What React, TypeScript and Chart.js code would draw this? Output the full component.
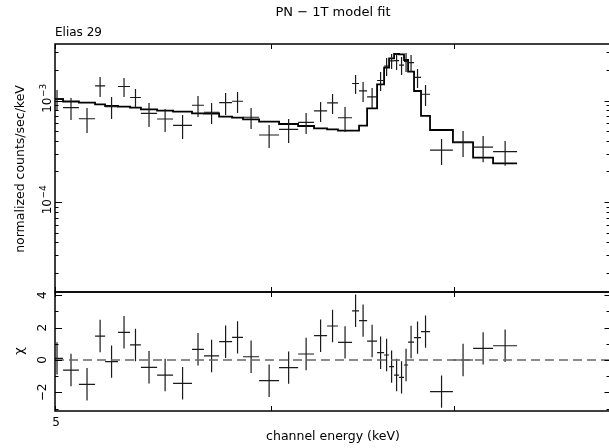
import { useEffect, useRef } from 'react';
import { Chart, registerables } from 'chart.js';

Chart.register(...registerables);

// Channel bin edges (keV)
const binEdges = [
  4.983, 5.034, 5.102, 5.172, 5.216, 5.273, 5.327, 5.376, 5.45, 5.524, 5.613,
  5.67, 5.743, 5.806, 5.86, 5.94, 6.041, 6.139, 6.222, 6.291, 6.349, 6.425,
  6.463, 6.507, 6.562, 6.601, 6.629, 6.657, 6.685, 6.713, 6.736, 6.77, 6.81,
  6.862, 6.996, 7.116, 7.237, 7.385,
];
// normalized counts/sec/keV (x 1e-3)
const rate = [
  1.037, 0.85, 0.661, 1.393, 0.87, 1.374, 1.071, 0.747, 0.657, 0.569, 0.898,
  0.766, 0.953, 0.983, 0.684, 0.457, 0.519, 0.61, 0.79, 0.948, 0.676, 1.471,
  1.244, 1.086, 1.575, 2.183, 2.458, 2.468, 2.233, 2.423, 2.358, 1.686, 1.152,
  0.325, 0.389, 0.347, 0.313,
];
const rateErr = [
  0.231, 0.208, 0.183, 0.311, 0.213, 0.292, 0.227, 0.198, 0.168, 0.151, 0.21,
  0.179, 0.233, 0.23, 0.16, 0.117, 0.138, 0.143, 0.176, 0.211, 0.187, 0.312,
  0.277, 0.242, 0.334, 0.44, 0.414, 0.47, 0.45, 0.514, 0.449, 0.358, 0.269,
  0.093, 0.112, 0.1, 0.086,
];
const model = [
  1.035, 0.978, 0.951, 0.917, 0.883, 0.869, 0.849, 0.819, 0.793, 0.776, 0.748,
  0.745, 0.693, 0.677, 0.653, 0.618, 0.587, 0.561, 0.532, 0.52, 0.504, 0.506,
  0.565, 0.838, 1.444, 2.105, 2.605, 2.872, 2.852, 2.506, 1.922, 1.241, 0.704,
  0.512, 0.386, 0.274, 0.24,
];
// residuals (chi)
const chi = [
  0.1, -0.62, -1.5, 1.48, -0.1, 1.71, 0.93, -0.45, -0.93, -1.44, 0.66, 0.25,
  1.13, 1.4, 0.2, -1.28, -0.47, 0.37, 1.5, 2.1, 1.09, 3.04, 2.43, 1.17, 0.45,
  0.31, -0.41, -0.93, -1.07, -0.31, 1.11, 1.38, 1.75, -1.95, 0.0, 0.72, 0.88,
];
const RATE_UNIT = 1e-3;

const xMin = 5;
const xMax = 7.981;
const topMin = 1.298e-5;
const topMax = 3.603e-3;
const chiMin = -3.15;
const chiMax = 4.2;

const xTicks = [5, 6, 7];
const xTickLabels = ['5', '', ''];
const topMajorTicks = [1e-4, 1e-3];
const topMajorExp = ['−4', '−3'];
const chiMajorTicks = [-2, 0, 2, 4];
const chiMajorLabels = ['−2', '0', '2', '4'];
const chiMinorTicks = [-3, -1, 1, 3];

const titleText = 'PN − 1T model fit';
const sourceText = 'Elias 29';
const yTitleTop = 'normalized counts/sec/keV';
const yTitleBottom = 'χ';
const xTitle = 'channel energy (keV)';

const FONT = '"DejaVu Sans", sans-serif';

function crosses(vals: number[], errs: number[], unit: number) {
  const pts: { x: number; y: number | null }[] = [];
  for (let i = 0; i < vals.length; i++) {
    const lo = binEdges[i];
    const hi = binEdges[i + 1];
    const c = (lo + hi) / 2;
    const v = vals[i] * unit;
    const e = errs[i] * unit;
    pts.push({ x: lo, y: v }, { x: hi, y: v }, { x: c, y: null });
    pts.push({ x: c, y: v - e }, { x: c, y: v + e }, { x: c, y: null });
  }
  return pts;
}

function seg(ctx: CanvasRenderingContext2D, x1: number, y1: number, x2: number, y2: number) {
  ctx.beginPath();
  ctx.moveTo(x1, y1);
  ctx.lineTo(x2, y2);
  ctx.stroke();
}

function rotText(ctx: CanvasRenderingContext2D, text: string, x: number, y: number, font: string) {
  ctx.save();
  ctx.translate(x, y);
  ctx.rotate(-Math.PI / 2);
  ctx.font = font;
  ctx.textAlign = 'center';
  ctx.textBaseline = 'middle';
  ctx.fillText(text, 0, 0);
  ctx.restore();
}

function drawFrame(chart: any) {
  const { ctx, chartArea: a } = chart;
  ctx.strokeStyle = '#000';
  ctx.lineWidth = 1.5;
  // frame: right side lies on the canvas edge
  ctx.strokeRect(a.left, a.top, a.right + 2 - a.left, a.bottom - a.top);
  ctx.lineWidth = 1;
  const xs = chart.scales.x;
  for (const v of xTicks) {
    const px = Math.round(xs.getPixelForValue(v)) + 0.5;
    seg(ctx, px, a.top, px, a.top + 5);
    seg(ctx, px, a.bottom, px, a.bottom - 5);
  }
}

const topDecor = {
  id: 'topDecor',
  afterDraw(chart: any) {
    const { ctx, chartArea: a } = chart;
    const ys = chart.scales.y;
    ctx.save();
    drawFrame(chart);
    ctx.lineWidth = 1;
    for (let d = -5; d <= -2; d++) {
      for (let m = 1; m <= 9; m++) {
        const v = m * Math.pow(10, d);
        if (v < topMin || v > topMax) continue;
        const py = Math.round(ys.getPixelForValue(v)) + 0.5;
        seg(ctx, a.left, py, a.left + (m === 1 ? 7 : 3.5), py);
        seg(ctx, a.right, py, a.right - (m === 1 ? 4.5 : 2.5), py);
      }
    }
    ctx.fillStyle = '#000';
    topMajorTicks.forEach((v, i) => {
      const py = ys.getPixelForValue(v);
      ctx.save();
      ctx.translate(51, py - 2);
      ctx.rotate(-Math.PI / 2);
      ctx.textBaseline = 'alphabetic';
      ctx.textAlign = 'left';
      ctx.font = `12px ${FONT}`;
      const w10 = ctx.measureText('10').width;
      ctx.font = `9px ${FONT}`;
      const we = ctx.measureText(topMajorExp[i]).width;
      const start = -(w10 + we) / 2;
      ctx.font = `12px ${FONT}`;
      ctx.fillText('10', start, 0);
      ctx.font = `9px ${FONT}`;
      ctx.fillText(topMajorExp[i], start + w10 + 0.5, -5.5);
      ctx.restore();
    });
    rotText(ctx, yTitleTop, 20.5, 169, `12.5px ${FONT}`);
    ctx.textBaseline = 'middle';
    ctx.textAlign = 'center';
    ctx.font = `13px ${FONT}`;
    ctx.fillText(titleText, 333, 12.5);
    ctx.font = `12px ${FONT}`;
    ctx.textAlign = 'left';
    ctx.fillText(sourceText, 55, 33);
    ctx.restore();
  },
};

const bottomDecor = {
  id: 'bottomDecor',
  afterDraw(chart: any) {
    const { ctx, chartArea: a } = chart;
    const ys = chart.scales.y;
    const xs = chart.scales.x;
    ctx.save();
    drawFrame(chart);
    ctx.lineWidth = 1;
    for (const v of chiMajorTicks) {
      const py = Math.round(ys.getPixelForValue(v)) + 0.5;
      seg(ctx, a.left, py, a.left + 7, py);
      seg(ctx, a.right, py, a.right - 4.5, py);
    }
    for (const v of chiMinorTicks) {
      const py = Math.round(ys.getPixelForValue(v)) + 0.5;
      seg(ctx, a.left, py, a.left + 3.5, py);
      seg(ctx, a.right, py, a.right - 2.5, py);
    }
    ctx.fillStyle = '#000';
    chiMajorTicks.forEach((v, i) => {
      rotText(ctx, chiMajorLabels[i], 42.5, ys.getPixelForValue(v), `12px ${FONT}`);
    });
    rotText(ctx, yTitleBottom, 19.5, 351, `13px ${FONT}`);
    ctx.font = `12px ${FONT}`;
    ctx.textAlign = 'center';
    ctx.textBaseline = 'middle';
    xTicks.forEach((v, i) => {
      if (xTickLabels[i]) ctx.fillText(xTickLabels[i], xs.getPixelForValue(v) + 1, 422.5);
    });
    ctx.font = `12.5px ${FONT}`;
    ctx.fillText(xTitle, 333, 437);
    ctx.restore();
  },
};

export default function App() {
  const topRef = useRef<HTMLCanvasElement>(null);
  const botRef = useRef<HTMLCanvasElement>(null);

  useEffect(() => {
    document.body.style.margin = '0';
    const modelPts = binEdges.map((e, i) => ({
      x: e,
      y: model[Math.min(i, model.length - 1)] * RATE_UNIT,
    }));
    const top = new Chart(topRef.current!, {
      type: 'line',
      data: {
        datasets: [
          {
            data: crosses(rate, rateErr, RATE_UNIT),
            borderColor: '#1a1a1a',
            borderWidth: 1.2,
            pointRadius: 0,
            spanGaps: false,
          },
          {
            data: modelPts,
            borderColor: '#000',
            borderWidth: 1.8,
            pointRadius: 0,
            stepped: 'before',
          },
        ],
      },
      options: {
        animation: false,
        responsive: false,
        events: [],
        layout: { padding: { left: 55, right: 0, top: 44, bottom: 156 } },
        plugins: { legend: { display: false }, tooltip: { enabled: false } },
        scales: {
          x: { type: 'logarithmic', min: xMin, max: xMax, display: false },
          y: { type: 'logarithmic', min: topMin, max: topMax, display: false },
        },
      },
      plugins: [topDecor],
    } as any);

    const bottom = new Chart(botRef.current!, {
      type: 'line',
      data: {
        datasets: [
          {
            data: [
              { x: xMin, y: 0 },
              { x: xMax, y: 0 },
            ],
            borderColor: '#666',
            borderWidth: 1.5,
            borderDash: [9, 5],
            pointRadius: 0,
          },
          {
            data: crosses(chi, chi.map(() => 1), 1),
            borderColor: '#1a1a1a',
            borderWidth: 1.2,
            pointRadius: 0,
            spanGaps: false,
          },
        ],
      },
      options: {
        animation: false,
        responsive: false,
        events: [],
        layout: { padding: { left: 55, right: 0, top: 292, bottom: 37 } },
        plugins: { legend: { display: false }, tooltip: { enabled: false } },
        scales: {
          x: { type: 'logarithmic', min: xMin, max: xMax, display: false },
          y: { type: 'linear', min: chiMin, max: chiMax, display: false },
        },
      },
      plugins: [bottomDecor],
    } as any);

    return () => {
      top.destroy();
      bottom.destroy();
    };
  }, []);

  return (
    <div style={{ position: 'relative', width: 609, height: 448, background: '#fff' }}>
      <canvas ref={topRef} width={609} height={448} style={{ position: 'absolute', left: 0, top: 0 }} />
      <canvas ref={botRef} width={609} height={448} style={{ position: 'absolute', left: 0, top: 0 }} />
    </div>
  );
}
